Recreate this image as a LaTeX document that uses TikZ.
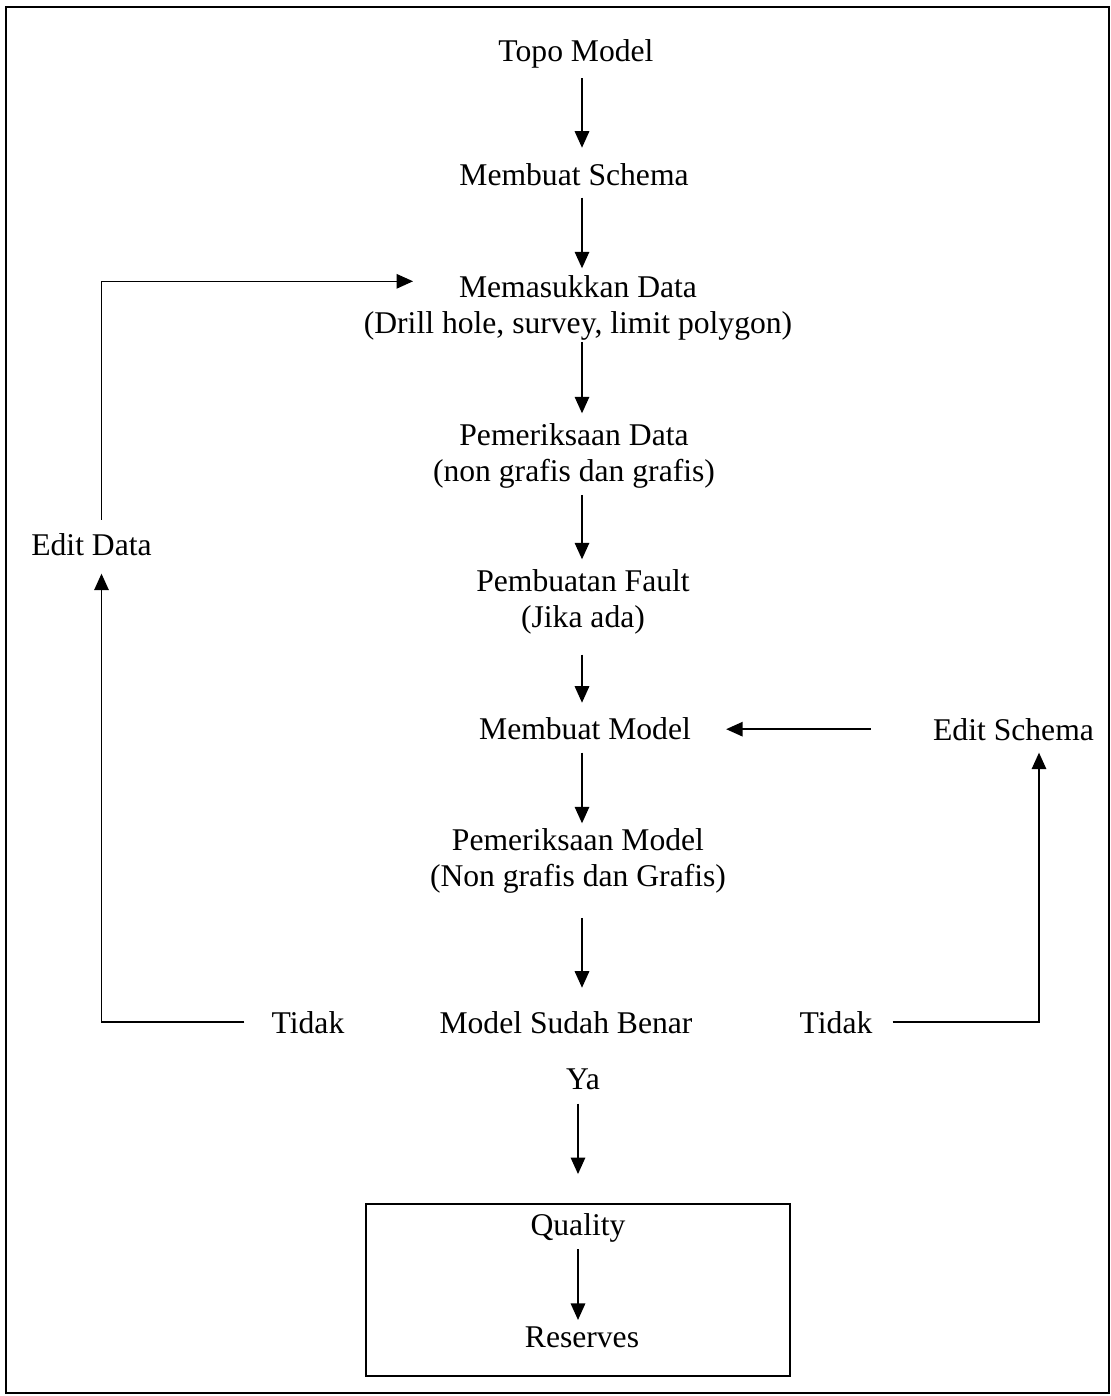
\documentclass[tikz,border=0pt]{standalone}
\usepackage{fontspec}
\setmainfont{Liberation Serif}
\usepackage{tikz}
\usetikzlibrary{arrows.meta}

\begin{document}
\begin{tikzpicture}[
    x=0.02cm, y=-0.02cm,
    every node/.style={inner sep=0pt, font=\fontsize{18}{20.5}\selectfont, align=center},
    steptext/.style={anchor=base},
    twoline/.style={anchor=north},
    outbox/.style={rectangle, draw=black, line width=1.1pt, minimum width=8.48cm, minimum height=3.44cm},
    arr/.style={-{Triangle[length=0.33cm, width=0.29cm]}, line width=0.85pt, draw=black}
]
\useasboundingbox (0,0) rectangle (1111,1396);
\draw[line width=1.1pt] (6,7) rectangle (1109,1393);

\coordinate (axis) at (582,0);

\node[steptext] (topo) at (576,61) {Topo Model};
\node[steptext] (schema) at (574,185) {Membuat Schema};
\node[twoline] (masuk) at (578,275.3) {Memasukkan Data\\(Drill hole, survey, limit polygon)};
\node[twoline] (cekdata) at (574,423.3) {Pemeriksaan Data\\(non grafis dan grafis)};
\node[twoline] (fault) at (583,569.3) {Pembuatan Fault\\(Jika ada)};
\node[steptext] (model) at (585,739) {Membuat Model};
\node[twoline] (cekmodel) at (578,828.3) {Pemeriksaan Model\\(Non grafis dan Grafis)};
\node[steptext] (benar) at (566,1033) {Model Sudah Benar};
\node[steptext] (ya) at (583,1089) {Ya};
\node[outbox] (hasil) at (578,1290) {};
\node[steptext] (quality) at (578,1235) {Quality};
\node[steptext] (reserves) at (582,1347) {Reserves};

\node[steptext] (editdata) at (91.5,555) {Edit Data};
\node[steptext] (editschema) at (1013.5,740) {Edit Schema};
\node[steptext] (tidakkiri) at (308,1033) {Tidak};
\node[steptext] (tidakkanan) at (836,1033) {Tidak};

\draw[arr, shorten <=0.2cm, shorten >=0.3cm] (topo.south -| axis) -- (schema.north -| axis);
\draw[arr, shorten <=0.24cm, shorten >=0.14cm] (schema.south -| axis) -- (masuk.north -| axis);
\draw[arr, shorten <=0.02cm, shorten >=0.2cm] (masuk.south -| axis) -- (cekdata.north -| axis);
\draw[arr, shorten <=0.12cm, shorten >=0.2cm] (cekdata.south -| axis) -- (fault.north -| axis);
\draw[arr, shorten <=0.4cm, shorten >=0.28cm] (fault.south -| axis) -- (model.north -| axis);
\draw[arr, shorten <=0.26cm, shorten >=0.1cm] (model.south -| axis) -- (cekmodel.north -| axis);
\draw[arr, shorten <=0.48cm, shorten >=0.46cm] (cekmodel.south -| axis) -- (benar.north -| axis);
\draw[arr, shorten <=0.28cm, shorten >=0.58cm] (ya.south -| hasil.north) -- (hasil.north);
\draw[arr, shorten <=0.14cm, shorten >=0.12cm] (quality.south -| hasil.north) -- (reserves.north -| hasil.north);

\draw[arr, shorten <=0.54cm, shorten >=0.36cm] (tidakkiri.west) -| ([xshift=0.2cm]editdata.south);
\draw[arr, shorten <=0.26cm] ([xshift=0.2cm]editdata.north) |- ([xshift=-3.3cm, yshift=-0.12cm]masuk.north);
\draw[arr, shorten <=0.4cm, shorten >=0.24cm] (tidakkanan.east) -| ([xshift=0.51cm]editschema.south);
\draw[arr, shorten <=1.24cm, shorten >=0.7cm] (editschema.west) -- (model.east |- editschema.west);

\end{tikzpicture}
\end{document}
